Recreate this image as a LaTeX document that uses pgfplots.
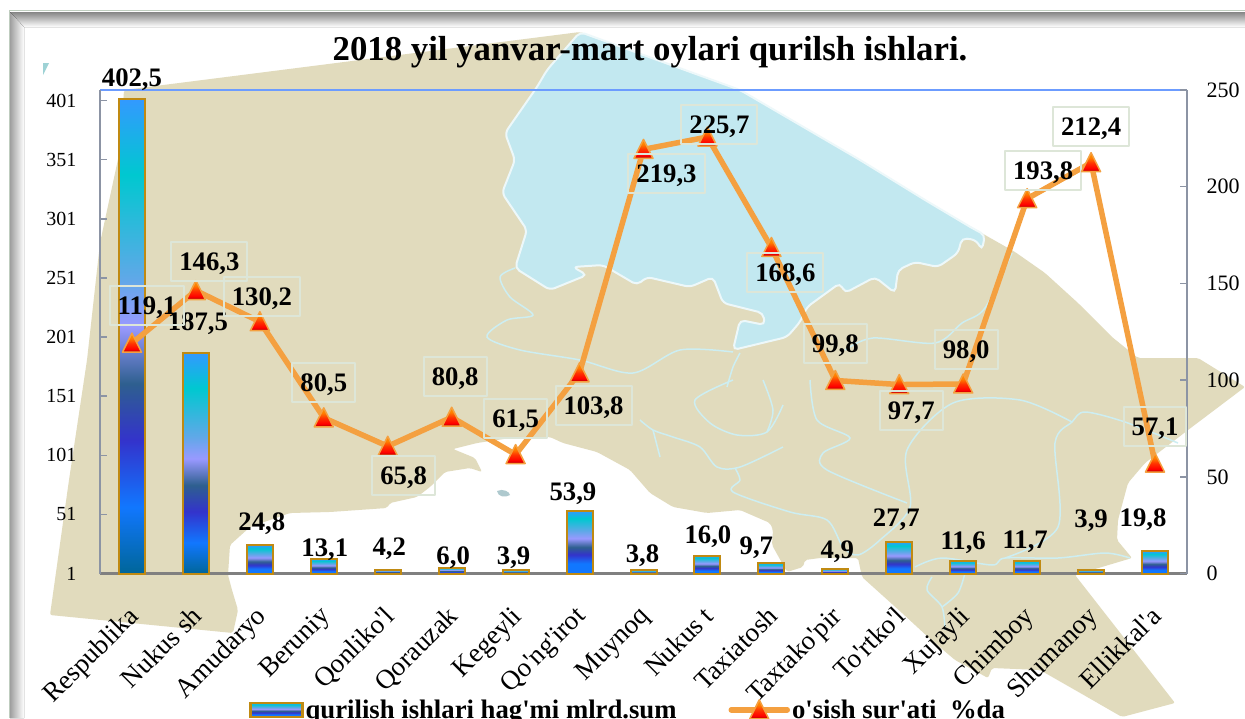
\documentclass[border=0pt]{standalone}
\usepackage{pgfplots}
\usepackage{pgfplotstable}
\usepackage{fontspec}
\setmainfont{Liberation Serif}[Ligatures=TeXOff]
\pgfplotsset{compat=1.18}
\definecolor{landc}{HTML}{E1DBBD}
\definecolor{seac}{HTML}{C2E8F0}
\definecolor{riverc}{HTML}{CDEEF2}
\definecolor{linec}{HTML}{F4A040}
\definecolor{barline}{HTML}{C08A12}
\definecolor{boxc}{HTML}{DDE6D8}
\definecolor{axisg}{HTML}{8C94A4}
\definecolor{topb}{HTML}{6C9CFF}
\definecolor{s0}{HTML}{006699}
\definecolor{s1}{HTML}{1177FF}
\definecolor{s2}{HTML}{3333CC}
\definecolor{s3}{HTML}{2E5F8F}
\definecolor{s4}{HTML}{9999FF}
\definecolor{s5}{HTML}{60A8E8}
\definecolor{s6}{HTML}{00C8D0}
\definecolor{s7}{HTML}{3399FF}
\pgfdeclareverticalshading{barbig}{100bp}{color(0bp)=(s0);color(25bp)=(s0);color(32bp)=(s1);color(39bp)=(s2);color(45bp)=(s3);color(51bp)=(s4);color(56bp)=(s5);color(67bp)=(s6);color(75bp)=(s7);color(100bp)=(s7)}
\pgfdeclareverticalshading{barsmall}{100bp}{color(0bp)=(s1);color(25bp)=(s1);color(33bp)=(s1);color(40bp)=(s2);color(46bp)=(s3);color(53bp)=(s4);color(59bp)=(s5);color(69bp)=(s6);color(75bp)=(s7);color(100bp)=(s7)}
\pgfdeclareverticalshading{trishade}{100bp}{color(0bp)=(red!65!black);color(25bp)=(red!65!black);color(33bp)=(red);color(48bp)=(red!60!orange);color(62bp)=(orange);color(75bp)=(orange!85!yellow);color(100bp)=(orange!85!yellow)}
\pgfdeclareplotmark{gtri}{\draw[line width=1.5pt,draw=linec,shading=trishade,solid] (0pt,10pt)--(-9.5pt,-9pt)--(9.5pt,-9pt)--cycle;}
\pgfplotstableread{
x v dx dy
0 402.5 0 21
1 187.5 2 31
2 24.8 2 23.5
3 13.1 1 12
4 4.2 1.5 23
5 6.0 1.5 12.5
6 3.9 -2 15
7 53.9 -6.6 19
8 3.8 -1 17
9 16.0 0.5 21
10 9.7 -15 18
11 4.9 2 19
12 27.7 -3 24
13 11.6 0 20.5
14 11.7 -2 21
15 3.9 0 52
16 19.8 -12 34
}\bartable
\pgfplotstableread{
x v dx dy
0 119.1 15 37.5
1 146.3 13.5 29
2 130.2 2 25
3 80.5 0 35
4 65.8 16 -29
5 80.8 3.5 41
6 61.5 0 36.5
7 103.8 14 -33
8 219.3 23 -24.5
9 225.7 12 13
10 168.6 14 -25.5
11 99.8 0 36.5
12 97.7 12 -26
13 98.0 3 34.5
14 193.8 16 28
15 212.4 0 36
16 57.1 0 36.5
}\linetable
\newcommand{\lblnum}{\pgfmathprintnumber[fixed,fixed zerofill,precision=1,use comma,assume math mode=true]{\pgfplotspointmeta}}
\pgfplotsset{common/.style={
  scale only axis,width=1087pt,height=483.5pt,
  at={(100pt,-573.5pt)},anchor=south west,
  xmin=-0.5,xmax=16.5,clip=false,
  /pgf/number format/assume math mode=true,
  tick label style={font=\fontsize{20}{24}\selectfont},
  major tick length=7pt,
  visualization depends on={\thisrow{dx}\as\dxv},
  visualization depends on={\thisrow{dy}\as\dyv},
}}
\begin{document}
\begin{tikzpicture}
\path[use as bounding box,clip] (0,0) rectangle (1245pt,-718pt);
\fill[white] (0,0) rectangle (1245pt,-718pt);
\begin{scope}[x=1pt,y=-1pt]
% decorative frame
\fill[top color=gray!95,bottom color=white] (10,12)--(1245,12)--(1245,27)--(24,27)--cycle;
\fill[left color=gray!75,right color=white] (10,12)--(24,27)--(24,718)--(10,718)--cycle;
\draw[line width=1.5pt,color=green!12!gray!45] (9.5,718)--(9.5,10.5)--(1245,10.5);
% teal fragment
\fill[seac!60!teal!70] (43,63)--(49,63)--(43,75)--cycle;
% decorative map background
\fill[landc,rounded corners=2pt] (124,90)--(580,32)--(740,90)--(860,160)--(925,200)--(985,235)--(1015,252)--(1045,273)--(1078,303)--(1112,337)--(1138,358)--(1198,358)--(1245,387)--(1188,430)--(1145,463)--(1128,483)--(1118,520)--(1117,540)--(1132,558)--(1075,575)--(1175,703)--(1122,717)--(1075,690)--(1040,670)--(992,668)--(988,678)--(955,660)--(928,637)--(902,613)--(862,577)--(858,558)--(820,558)--(805,560)--(803,567)--(787,572)--(772,545)--(773,530)--(770,523)--(740,510)--(707,513)--(673,507)--(650,493)--(630,470)--(597,452)--(563,443)--(550,437)--(517,437)--(477,443)--(453,449)--(475,458)--(482,472)--(470,468)--(445,472)--(430,487)--(417,497)--(390,503)--(387,508)--(330,512)--(290,513)--(250,527)--(230,545)--(228,575)--(232,590)--(238,610)--(233,633)--(50,615)--(69,480)--(87,360)--(100,243)--(120,150)--cycle;
\fill[seac!70!gray] (497,491) .. controls (503,488) and (510,492) .. (510,495) .. controls (505,498) and (498,497) .. (497,491);
% sea
\filldraw[fill=seac,draw=white!70!seac,line width=2pt,rounded corners=5pt] (580,32)--(740,90)--(860,160)--(925,200)--(972,228)--(985,235)--(982,250)--(976,240)--(962,238)--(958,253)--(938,267)--(915,262)--(898,270)--(895,293)--(875,277)--(845,293)--(840,283)--(807,307)--(800,322)--(787,337)--(733,350)--(740,320)--(765,325)--(763,313)--(723,303)--(713,277)--(690,287)--(647,277)--(637,285)--(603,265)--(573,267)--(587,275)--(550,290)--(515,268)--(527,230)--(502,193)--(515,160)--(505,133)--(537,87)--(547,70)--cycle;
% rivers
\begin{scope}[riverc,line width=1.5pt]
\draw plot[smooth] coordinates {(515,268)(500,277)(510,297)(533,315)(507,320)(487,337)(520,350)(580,360)(633,373)(680,350)(733,352)};
\draw plot[smooth] coordinates {(640,420)(653,430)(673,437)(700,447)(717,467)(740,467)(783,447)};
\draw plot[smooth] coordinates {(653,430)(660,457)};
\draw plot[smooth] coordinates {(735,468)(740,480)(733,492)(790,512)(827,520)(843,547)(858,555)(880,540)(910,507)(907,450)(953,403)(1020,400)(1072,422)};
\draw plot[smooth] coordinates {(810,380)(817,420)(850,438)(823,453)(827,470)(907,503)};
\draw plot[smooth] coordinates {(733,380)(695,400)(710,423)(737,435)(767,432)(783,405)};
\draw plot[smooth] coordinates {(767,432)(773,410)(763,380)};
\draw plot[smooth] coordinates {(915,567)(942,558)(992,565)(1005,558)(1058,558)(1105,553)(1130,558)};
\draw plot[smooth] coordinates {(1005,558)(1058,527)(1055,443)(1072,422)(1085,412)(1125,422)(1178,443)};
\draw plot[smooth] coordinates {(932,577)(927,590)(942,607)(945,630)};
\draw plot[smooth] coordinates {(965,573)(958,593)(942,607)};
\draw plot[smooth] coordinates {(845,350)(873,338)(935,343)(962,323)(985,308)(1012,253)};
\draw plot[smooth] coordinates {(740,353)(733,367)(727,387)};
\end{scope}
\draw[topb,line width=2pt] (100,90)--(1187,90);
\end{scope}
% bars
\begin{axis}[common,
  ymin=1,ymax=409.9,
  axis x line*=bottom,axis y line*=left,
  x axis line style={draw=gray,line width=3pt,-},
  y axis line style={draw=axisg,line width=2pt,-},
  xtick={0,...,16},
  xticklabels={Respublika,Nukus sh,Amudaryo,Beruniy,Qonliko'l,Qorauzak,Kegeyli,Qo'ng'irot,Muynoq,Nukus t,Taxiatosh,Taxtako'pir,To'rtko'l,Xujayli,Chimboy,Shumanoy,Ellikkal'a},
  x tick style={draw=none},
  ytick={1,51,101,151,201,251,301,351,401},
  y tick style={draw=axisg,line width=1.5pt},
  xticklabel style={rotate=45,anchor=north east,font=\fontsize{27}{30}\selectfont,xshift=-19.8pt,yshift=-11.9pt,inner sep=1pt},
  yticklabel style={xshift=-20pt},
  title={\textbf{2018 yil yanvar-mart oylari qurilsh ishlari.}},
  title style={at={(0.506,1.066)},anchor=center,font=\fontsize{34.8}{38}\selectfont,inner sep=0pt},
  ybar,bar width=26pt,
  nodes near coords={\lblnum},
  every node near coord/.append style={anchor=center,xshift=\dxv pt,yshift=\dyv pt,font=\bfseries\fontsize{26.7}{30}\selectfont,inner sep=0pt,text=black,text height=18pt,text depth=0pt},
  point meta=y,
]
\pgfplotsinvokeforeach{0,1}{
\addplot[bar shift=0pt,draw=barline,line width=2pt,shading=barbig,restrict x to domain=#1:#1] table[x=x,y=v] {\bartable};
}
\pgfplotsinvokeforeach{2,...,16}{
\addplot[bar shift=0pt,draw=barline,line width=2pt,shading=barsmall,restrict x to domain=#1:#1] table[x=x,y=v] {\bartable};
}
\end{axis}
% line
\begin{axis}[common,
  ymin=0,ymax=250,
  axis x line=none,axis y line*=right,
  y axis line style={draw=axisg,line width=2pt,-},
  ytick={0,50,100,150,200,250},
  y tick style={draw=axisg,line width=1.5pt},
  yticklabel style={xshift=16pt,font=\fontsize{22}{24}\selectfont},
  nodes near coords={\lblnum},
  every node near coord/.append style={anchor=center,xshift=\dxv pt,yshift=\dyv pt,font=\bfseries\fontsize{26.7}{30}\selectfont,draw=boxc,line width=2pt,inner xsep=8pt,inner ysep=10.5pt,text=black,text height=18pt,text depth=0pt},
  point meta=y,
  legend style={at={(0.137,-0.282)},anchor=west,draw=none,fill=none,inner sep=0pt,legend columns=2,font=\bfseries\fontsize{26.7}{30}\selectfont,
    /tikz/every even column/.append style={column sep=50pt}},
  legend cell align=left,
]
\addlegendimage{legend image code/.code={\draw[draw=barline,line width=2.5pt,shading=barsmall] (0pt,-7pt) rectangle (52pt,7pt);}}
\addlegendentry{qurilish ishlari hag'mi mlrd.sum}
\addplot[draw=linec,line width=5.5pt,line cap=round,line join=round,mark=gtri,
  legend image code/.code={\draw[draw=linec,line width=5.5pt,line cap=round] (0pt,0pt)--(56pt,0pt);\begin{scope}[shift={(28pt,0pt)}]\pgfuseplotmark{gtri}\end{scope}}] table[x=x,y=v] {\linetable};
\addlegendentry{o'sish sur'ati\ \ \%da}
\end{axis}
\end{tikzpicture}
\end{document}
